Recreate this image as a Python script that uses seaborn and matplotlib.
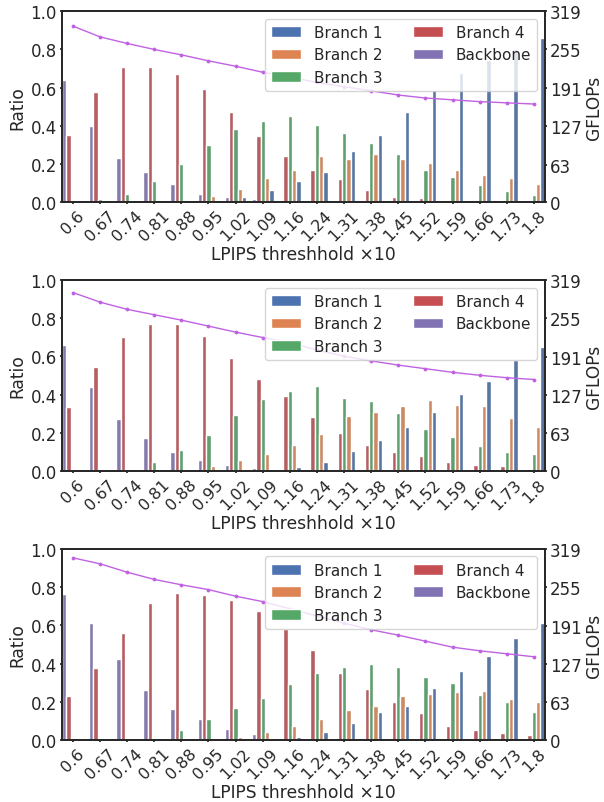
import numpy as np
import pandas as pd
import seaborn as sns
import matplotlib
matplotlib.use("Agg")
import matplotlib.pyplot as plt
from matplotlib.patches import Patch

# LPIPS thresholds (x10) on the x axis
thresholds = ["0.6", "0.67", "0.74", "0.81", "0.88", "0.95", "1.02", "1.09", "1.16",
              "1.24", "1.31", "1.38", "1.45", "1.52", "1.59", "1.66", "1.73", "1.8"]

bar_order = ["Backbone", "Branch 4", "Branch 3", "Branch 2", "Branch 1"]
legend_order = ["Branch 1", "Branch 2", "Branch 3", "Branch 4", "Backbone"]
gflops_ticks = [0, 63, 127, 191, 255, 319]

# ---- top panel ----
top_backbone = [0.639, 0.398, 0.234, 0.161, 0.094, 0.042, 0.026, 0.016, 0.010,
                0.005, 0.004, 0.0, 0.0, 0.0, 0.0, 0.0, 0.0, 0.0]
top_branch4 = [0.351, 0.578, 0.708, 0.708, 0.672, 0.595, 0.474, 0.349, 0.240,
               0.172, 0.120, 0.066, 0.030, 0.021, 0.014, 0.009, 0.004, 0.002]
top_branch3 = [0.0, 0.016, 0.042, 0.111, 0.201, 0.299, 0.385, 0.427, 0.451,
               0.406, 0.361, 0.309, 0.253, 0.172, 0.134, 0.089, 0.059, 0.038]
top_branch2 = [0.0, 0.0, 0.0, 0.0, 0.014, 0.036, 0.068, 0.125, 0.172,
               0.245, 0.229, 0.255, 0.229, 0.208, 0.168, 0.144, 0.125, 0.094]
top_branch1 = [0.0, 0.0, 0.0, 0.0, 0.0, 0.010, 0.026, 0.064, 0.113,
               0.158, 0.271, 0.354, 0.472, 0.587, 0.674, 0.745, 0.802, 0.858]
top_gflops = [294, 276, 265, 255, 246, 236, 227, 217, 209,
              200, 193, 186, 179, 174, 171, 168, 166, 164]

# ---- middle panel ----
mid_backbone = [0.658, 0.440, 0.275, 0.174, 0.100, 0.060, 0.033, 0.019, 0.011,
                0.005, 0.0, 0.0, 0.0, 0.0, 0.0, 0.0, 0.0, 0.0]
mid_branch4 = [0.337, 0.547, 0.702, 0.770, 0.770, 0.705, 0.593, 0.484, 0.395,
               0.282, 0.200, 0.140, 0.102, 0.079, 0.051, 0.032, 0.026, 0.011]
mid_branch3 = [0.0, 0.005, 0.011, 0.047, 0.111, 0.191, 0.296, 0.377, 0.419,
               0.447, 0.384, 0.367, 0.305, 0.219, 0.179, 0.132, 0.100, 0.089]
mid_branch2 = [0.0, 0.0, 0.0, 0.0, 0.005, 0.026, 0.058, 0.089, 0.135,
               0.196, 0.289, 0.309, 0.342, 0.370, 0.347, 0.342, 0.279, 0.232]
mid_branch1 = [0.0, 0.0, 0.0, 0.0, 0.0, 0.0, 0.0, 0.009, 0.021,
               0.049, 0.105, 0.163, 0.230, 0.311, 0.404, 0.474, 0.579, 0.647]
mid_gflops = [298, 282, 270, 261, 252, 242, 232, 223, 215,
              202, 192, 184, 177, 171, 165, 160, 156, 153]

# ---- bottom panel ----
bot_backbone = [0.764, 0.614, 0.424, 0.264, 0.162, 0.110, 0.059, 0.030, 0.010,
                0.0, 0.0, 0.0, 0.0, 0.0, 0.0, 0.0, 0.0, 0.0]
bot_branch4 = [0.229, 0.379, 0.558, 0.716, 0.771, 0.759, 0.733, 0.677, 0.579,
               0.473, 0.353, 0.267, 0.199, 0.141, 0.075, 0.051, 0.038, 0.026]
bot_branch3 = [0.0, 0.0, 0.005, 0.010, 0.054, 0.110, 0.168, 0.222, 0.293,
               0.351, 0.382, 0.398, 0.382, 0.332, 0.298, 0.236, 0.202, 0.145]
bot_branch2 = [0.0, 0.0, 0.0, 0.0, 0.0, 0.005, 0.017, 0.044, 0.075,
               0.112, 0.157, 0.178, 0.229, 0.243, 0.251, 0.257, 0.213, 0.202]
bot_branch1 = [0.0, 0.0, 0.0, 0.0, 0.0, 0.0, 0.005, 0.009, 0.016,
               0.044, 0.089, 0.147, 0.178, 0.272, 0.361, 0.440, 0.534, 0.613]
bot_gflops = [304, 294, 280, 268, 259, 251, 240, 231, 219,
              207, 195, 184, 175, 165, 155, 149, 144, 139]

panels = [
    (top_backbone, top_branch4, top_branch3, top_branch2, top_branch1, top_gflops),
    (mid_backbone, mid_branch4, mid_branch3, mid_branch2, mid_branch1, mid_gflops),
    (bot_backbone, bot_branch4, bot_branch3, bot_branch2, bot_branch1, bot_gflops),
]

sns.set_theme(style="white", palette="deep")
plt.rcParams.update({
    "font.family": ["DejaVu Sans"],
    "font.size": 12,
    "axes.labelsize": 12.3,
    "xtick.labelsize": 11.5,
    "ytick.labelsize": 12,
    "legend.fontsize": 11,
    "xtick.bottom": True,
    "ytick.left": True,
    "ytick.right": True,
    "xtick.major.size": 1.75,
    "ytick.major.size": 1.75,
    "xtick.major.pad": 2,
    "ytick.major.pad": 2,
    "axes.labelpad": 3,
    "axes.edgecolor": ".15",
})

deep = sns.color_palette("deep")
colors = {"Branch 1": deep[0], "Branch 2": deep[1], "Branch 3": deep[2],
          "Branch 4": deep[3], "Backbone": deep[4]}
line_color = "#c062e2"

fig, axes = plt.subplots(3, 1, figsize=(6.04, 8.03), dpi=100)
fig.subplots_adjust(left=0.1026, right=0.902, top=0.985, bottom=0.077, hspace=0.405)

for ax, (bb, b4, b3, b2, b1, gf) in zip(axes, panels):
    series = {"Backbone": bb, "Branch 4": b4, "Branch 3": b3,
              "Branch 2": b2, "Branch 1": b1}
    rows = []
    for name in bar_order:
        for t, v in zip(thresholds, series[name]):
            rows.append({"threshold": t, "part": name, "ratio": v})
    df = pd.DataFrame(rows)

    sns.barplot(data=df, x="threshold", y="ratio", hue="part",
                order=thresholds, hue_order=bar_order, palette=colors,
                width=0.8, legend=False, ax=ax)
    ax.set_ylim(0, 1.0)
    ax.set_yticks(np.arange(0, 1.01, 0.2))
    ax.set_ylabel("Ratio")
    ax.set_xlabel("LPIPS threshhold \u00d710", labelpad=1)
    ax.tick_params(axis="x", rotation=45)

    ax2 = ax.twinx()
    ax2.plot(np.arange(len(thresholds)), gf, color=line_color, linewidth=1.0,
             marker=".", markersize=3.5)
    ax2.set_ylim(0, 319)
    ax2.set_yticks(gflops_ticks)
    ax2.set_ylabel("GFLOPs", labelpad=2)
    ax2.grid(False)
    ax.set_xlim(-0.4, len(thresholds) - 0.6)

    handles = [Patch(facecolor=colors[n], edgecolor="white", linewidth=1.0)
               for n in legend_order]
    ax2.legend(handles, legend_order, ncol=2, loc="upper right")

fig.savefig("out.png", dpi=100)
